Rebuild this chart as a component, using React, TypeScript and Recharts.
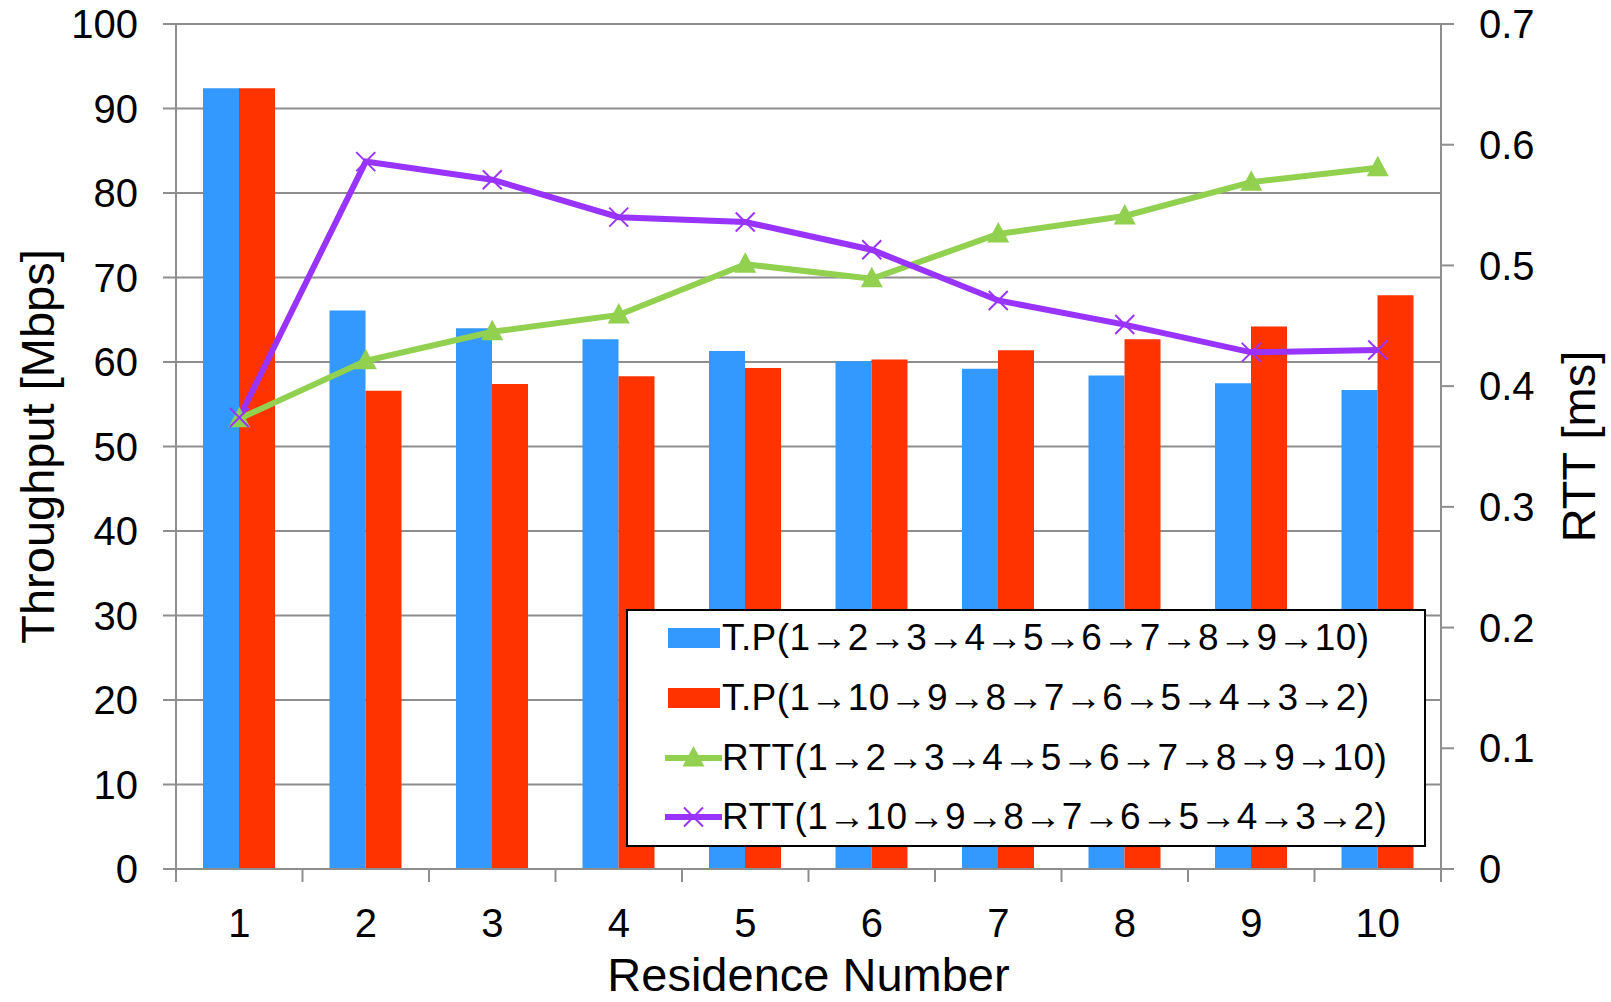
import { ComposedChart, Bar, Line, XAxis, YAxis, CartesianGrid, Legend } from 'recharts';

const residences = ['1', '2', '3', '4', '5', '6', '7', '8', '9', '10'];
const tpForward = [92.4, 66.1, 64.0, 62.7, 61.3, 60.1, 59.2, 58.4, 57.5, 56.7];
const tpReverse = [92.4, 56.6, 57.4, 58.3, 59.3, 60.3, 61.4, 62.7, 64.2, 67.9];
const rttForward = [0.373, 0.421, 0.445, 0.459, 0.501, 0.489, 0.526, 0.541, 0.569, 0.581];
const rttReverse = [0.374, 0.586, 0.571, 0.54, 0.536, 0.513, 0.471, 0.451, 0.428, 0.43];

const leftTicks = [0, 10, 20, 30, 40, 50, 60, 70, 80, 90, 100];
const rightTicks = [0, 0.1, 0.2, 0.3, 0.4, 0.5, 0.6, 0.7];

const data = residences.map((name, i) => ({
  name,
  tpForward: tpForward[i],
  tpReverse: tpReverse[i],
  rttForward: rttForward[i],
  rttReverse: rttReverse[i],
}));

const FONT = 'Arial, "Liberation Sans", sans-serif';
const GRID = '#8e8e8e';
const BLUE = '#3399FF';
const RED = '#FF3300';
const GREEN = '#92D050';
const PURPLE = '#9933FF';

const legendItems = [
  { label: 'T.P(1→2→3→4→5→6→7→8→9→10)', color: BLUE, kind: 'bar' },
  { label: 'T.P(1→10→9→8→7→6→5→4→3→2)', color: RED, kind: 'bar' },
  { label: 'RTT(1→2→3→4→5→6→7→8→9→10)', color: GREEN, kind: 'tri' },
  { label: 'RTT(1→10→9→8→7→6→5→4→3→2)', color: PURPLE, kind: 'x' },
];

const triPath = (cx: number, cy: number) =>
  `M${cx},${cy - 12} L${cx + 11},${cy + 8.5} L${cx - 11},${cy + 8.5} Z`;

const TriangleDot = (props: any) => {
  const { cx, cy, index } = props;
  if (cx == null || cy == null) return <g key={`t${index}`} />;
  return <path key={`t${index}`} d={triPath(cx, cy)} fill={GREEN} />;
};

const CrossDot = (props: any) => {
  const { cx, cy, index } = props;
  if (cx == null || cy == null) return <g key={`x${index}`} />;
  return (
    <g key={`x${index}`} stroke={PURPLE} strokeWidth={2}>
      <line x1={cx - 9.5} y1={cy - 9.5} x2={cx + 9.5} y2={cy + 9.5} />
      <line x1={cx - 9.5} y1={cy + 9.5} x2={cx + 9.5} y2={cy - 9.5} />
    </g>
  );
};

const BAND = 1265 / residences.length;

const XTick = (props: any) => {
  const { x, y, payload, index } = props;
  const isLast = index === residences.length - 1;
  return (
    <g>
      <line x1={x - BAND / 2} y1={y - 13} x2={x - BAND / 2} y2={y} stroke={GRID} strokeWidth={2} />
      {isLast && (
        <line x1={x + BAND / 2} y1={y - 13} x2={x + BAND / 2} y2={y} stroke={GRID} strokeWidth={2} />
      )}
      <text x={x} y={y + 55} textAnchor="middle" fontSize={40} fontFamily={FONT} fill="#000">
        {payload.value}
      </text>
    </g>
  );
};

const LegendBox = () => (
  <div
    style={{
      position: 'relative',
      width: 800,
      height: 238,
      boxSizing: 'border-box',
      border: '2px solid #000',
      background: '#fff',
      fontFamily: FONT,
      fontSize: 37,
      color: '#000',
    }}
  >
    {legendItems.map((item, i) => {
      const center = 27 + i * 59.8;
      return (
        <div key={item.label} style={{ position: 'absolute', left: 0, top: center - 30, height: 60, width: '100%' }}>
          <svg width={60} height={60} style={{ position: 'absolute', left: 37, top: 0 }}>
            {item.kind === 'bar' ? (
              <rect x={3} y={20} width={52} height={20} fill={item.color} />
            ) : (
              <g>
                <line x1={0} y1={30} x2={57} y2={30} stroke={item.color} strokeWidth={6} />
                {item.kind === 'tri' ? (
                  <path d={triPath(28.5, 30)} fill={item.color} />
                ) : (
                  <g stroke={item.color} strokeWidth={2}>
                    <line x1={19} y1={20.5} x2={38} y2={39.5} />
                    <line x1={19} y1={39.5} x2={38} y2={20.5} />
                  </g>
                )}
              </g>
            )}
          </svg>
          <div
            style={{
              position: 'absolute',
              left: 94,
              top: 0,
              height: 60,
              lineHeight: '60px',
              whiteSpace: 'nowrap',
              letterSpacing: 0.4,
            }}
          >
            {item.label}
          </div>
        </div>
      );
    })}
  </div>
);

const axisTitle = (text: string, cx: number) => (props: any) => {
  const vb = props.viewBox || {};
  const cy = vb.y + vb.height / 2;
  return (
    <text
      x={cx}
      y={cy}
      transform={`rotate(-90, ${cx}, ${cy})`}
      textAnchor="middle"
      dominantBaseline="central"
      fontSize={47}
      fontFamily={FONT}
      fill="#000"
    >
      {text}
    </text>
  );
};

export default function App() {
  return (
    <div style={{ position: 'absolute', left: 0, top: 0, width: 1611, height: 1002, background: '#fff' }}>
      <ComposedChart
        width={1611}
        height={1002}
        data={data}
        margin={{ top: 24, right: 0, bottom: 0, left: 0 }}
        barGap={0}
      >
        <CartesianGrid yAxisId="left" vertical={false} stroke={GRID} strokeWidth={2} />
        <XAxis
          dataKey="name"
          height={133}
          tickSize={13}
          tickMargin={0}
          tickLine={false}
          axisLine={{ stroke: GRID, strokeWidth: 2 }}
          tick={<XTick />}
          interval={0}
          label={(props: any) => {
            const vb = props.viewBox || {};
            return (
              <text
                x={vb.x + vb.width / 2}
                y={991}
                textAnchor="middle"
                fontSize={47}
                fontFamily={FONT}
                fill="#000"
              >
                Residence Number
              </text>
            );
          }}
        />
        <YAxis
          yAxisId="left"
          width={176}
          domain={[0, 100]}
          ticks={leftTicks}
          interval={0}
          tickSize={13}
          tickMargin={25}
          axisLine={{ stroke: GRID, strokeWidth: 2 }}
          tickLine={{ stroke: GRID, strokeWidth: 2 }}
          tick={{ fontSize: 40, fontFamily: FONT, fill: '#000' }}
          label={axisTitle('Throughput [Mbps]', 37)}
        />
        <YAxis
          yAxisId="right"
          orientation="right"
          width={170}
          domain={[0, 0.7]}
          ticks={rightTicks}
          interval={0}
          tickSize={13}
          tickMargin={25}
          tickFormatter={(v: number) => String(Math.round(v * 10) / 10)}
          axisLine={{ stroke: GRID, strokeWidth: 2 }}
          tickLine={{ stroke: GRID, strokeWidth: 2 }}
          tick={{ fontSize: 40, fontFamily: FONT, fill: '#000', textAnchor: 'start' }}
          label={axisTitle('RTT [ms]', 1578)}
        />
        <Bar yAxisId="left" dataKey="tpForward" fill={BLUE} barSize={36} isAnimationActive={false} />
        <Bar yAxisId="left" dataKey="tpReverse" fill={RED} barSize={36} isAnimationActive={false} />
        <Line
          yAxisId="right"
          type="linear"
          dataKey="rttForward"
          stroke={GREEN}
          strokeWidth={6}
          dot={TriangleDot}
          activeDot={false}
          isAnimationActive={false}
        />
        <Line
          yAxisId="right"
          type="linear"
          dataKey="rttReverse"
          stroke={PURPLE}
          strokeWidth={6}
          dot={CrossDot}
          activeDot={false}
          isAnimationActive={false}
        />
        <Legend
          layout="vertical"
          align="center"
          verticalAlign="middle"
          content={<LegendBox />}
          wrapperStyle={{ position: 'absolute', left: 626, top: 609, width: 800, height: 238 }}
        />
      </ComposedChart>
    </div>
  );
}
